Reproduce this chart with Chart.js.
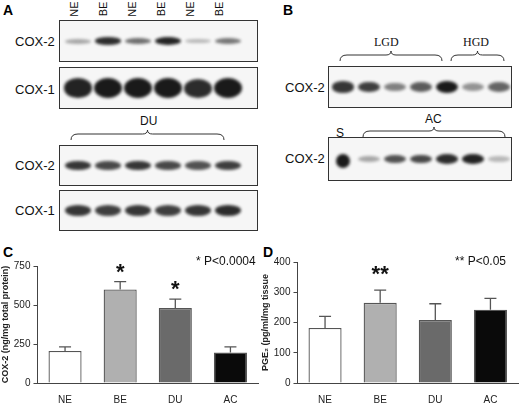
<!DOCTYPE html>
<html><head><meta charset="utf-8">
<script src="https://cdn.jsdelivr.net/npm/chart.js@4"></script>
<style>
body{margin:0;width:520px;height:409px;background:#fff;font-family:"Liberation Sans",Arial,sans-serif;position:relative;overflow:hidden}
.t{position:absolute;font-size:12px;color:#111;white-space:nowrap}
.L{position:absolute;font-weight:bold;font-size:14px}
.box{position:absolute;border:1px solid #333;background:#f6f6f6;overflow:hidden}
.band{position:absolute;border-radius:50%;background:#1a1a1a;filter:blur(1.5px)}
.serif{font-family:"Liberation Serif",serif;font-size:12px}
.brace{position:absolute}
canvas{position:absolute}
</style></head><body>
<div class="L" style="left:3px;top:2px">A</div>
<div class="L" style="left:283px;top:2px">B</div>
<div class="L" style="left:3px;top:244px">C</div>
<div class="L" style="left:263px;top:244px">D</div>
<div id="deco"></div>
<div style="position:absolute;left:0;top:250px;width:260px;height:159px"><canvas id="c"></canvas></div>
<div style="position:absolute;left:260px;top:250px;width:260px;height:159px"><canvas id="d"></canvas></div>
<div class="t" style="left:196px;top:254px;font-size:12px">* P&lt;0.0004</div>
<div class="t" style="left:455px;top:254px;font-size:12px">** P&lt;0.05</div>
<script>
// bar data
const groups = ['NE', 'BE', 'DU', 'AC'];
const cox2Mean = [205, 600, 480, 195];
const cox2Err = [27, 50, 58, 37];
const pgeMean = [182, 265, 208, 242];
const pgeErr = [38, 42, 54, 38];
const barColors = ['#ffffff', '#b0b0b0', '#6a6a6a', '#0a0a0a'];
const cox2Stars = ['', '*', '*', ''];
const pgeStars = ['', '**', '', ''];
// blot band intensities (0..1) per lane
const laneLabels = ['NE', 'BE', 'NE', 'BE', 'NE', 'BE'];
const aCox2 = [0.25, 0.9, 0.55, 0.95, 0.15, 0.5];
const aCox1 = [0.95, 1, 1, 1, 0.9, 1];
const duCox2 = [0.85, 0.75, 0.85, 0.75, 0.7, 0.8];
const duCox1 = [0.85, 0.8, 0.85, 0.8, 0.85, 0.9];
const bLgdHgd = [0.85, 0.8, 0.45, 0.65, 1, 0.35, 0.6];
const bAc = [1, 0.25, 0.7, 0.75, 0.9, 0.95, 0.15];

const deco = document.getElementById('deco');
function el(html) { deco.insertAdjacentHTML('beforeend', html); }
function blot(x, y, w, h, vals, bw, bh, lane0, laneW, round) {
  let s = `<div class="box" style="left:${x}px;top:${y}px;width:${w}px;height:${h}px">`;
  vals.forEach((v, i) => {
    const cx = lane0 + i * laneW;
    const hh = bh * (0.5 + 0.5 * v);
    const ww = round && i === 0 ? 14 : bw;
    const op = 0.15 + 0.85 * v;
    s += `<div class="band" style="left:${cx - ww / 2}px;top:${h / 2 - hh / 2}px;width:${ww}px;height:${round && i === 0 ? 14 : hh}px;opacity:${op}"></div>`;
  });
  deco.insertAdjacentHTML('beforeend', s + '</div>');
}
function brace(x1, x2, y) {
  const w = x2 - x1;
  el(`<svg class="brace" style="left:${x1}px;top:${y}px" width="${w}" height="12"><path d="M1 11 Q1 5 8 5 L${w / 2 - 5} 5 Q${w / 2} 5 ${w / 2} 1 Q${w / 2} 5 ${w / 2 + 5} 5 L${w - 8} 5 Q${w - 1} 5 ${w - 1} 11" fill="none" stroke="#333" stroke-width="1"/></svg>`);
}
// panel A
laneLabels.forEach((l, i) => {
  el(`<div class="t" style="left:${66 + i * 29}px;top:3px;transform:rotate(-90deg);transform-origin:center;width:16px;text-align:center;font-size:11px">${l}</div>`);
});
blot(59, 20, 197, 40, aCox2, 26, 8, 18, 30);
blot(59, 67, 197, 40, aCox1, 28, 20, 18, 30);
blot(59, 145, 197, 39, duCox2, 26, 10, 18, 30);
blot(59, 190, 197, 39, duCox1, 26, 12, 18, 30);
[[34, 'COX-2'], [82, 'COX-1'], [158, 'COX-2'], [203, 'COX-1']].forEach(([y, t]) => el(`<div class="t" style="left:15px;top:${y}px;font-size:13px">${t}</div>`));
el(`<div class="t" style="left:140px;top:114px">DU</div>`);
brace(70, 225, 129);
// panel B
blot(328, 66, 182, 40, bLgdHgd, 22, 12, 14, 26);
blot(328, 137, 182, 42, bAc, 22, 10, 14, 26, true);
el(`<div class="t" style="left:285px;top:80px;font-size:13px">COX-2</div>`);
el(`<div class="t" style="left:285px;top:151px;font-size:13px">COX-2</div>`);
el(`<div class="t serif" style="left:374px;top:35px">LGD</div>`);
el(`<div class="t serif" style="left:463px;top:35px">HGD</div>`);
brace(339, 443, 50);
brace(450, 505, 50);
el(`<div class="t" style="left:336px;top:126px">S</div>`);
el(`<div class="t" style="left:425px;top:112px">AC</div>`);
brace(362, 506, 126);

const errPlugin = {
  id: 'err',
  afterDatasetsDraw(chart, args, opts) {
    const { ctx, scales: { y } } = chart;
    const meta = chart.getDatasetMeta(0);
    ctx.save();
    ctx.strokeStyle = '#555'; ctx.lineWidth = 1.3;
    meta.data.forEach((b, i) => {
      const v = chart.data.datasets[0].data[i];
      const top = y.getPixelForValue(v + opts.err[i]);
      ctx.beginPath();
      ctx.moveTo(b.x, b.y); ctx.lineTo(b.x, top);
      ctx.moveTo(b.x - 6, top); ctx.lineTo(b.x + 6, top);
      ctx.stroke();
      if (opts.stars[i]) {
        ctx.fillStyle = '#111';
        ctx.font = 'bold 22px "Liberation Sans"';
        ctx.textAlign = 'center';
        ctx.fillText(opts.stars[i], b.x, top - opts.gap);
      }
    });
    ctx.restore();
  }
};
function bar(id, data, err, stars, max, step, title, padTop, gap) {
  new Chart(document.getElementById(id), {
    type: 'bar',
    data: { labels: groups, datasets: [{ data, backgroundColor: barColors, borderColor: '#555', borderWidth: 1.3, barPercentage: 0.6, categoryPercentage: 1 }] },
    options: {
      responsive: true, maintainAspectRatio: false, animation: false,
      layout: { padding: { top: padTop, right: 2, left: 0, bottom: 0 } },
      plugins: { legend: { display: false }, tooltip: { enabled: false }, err: { err, stars, gap } },
      scales: {
        x: { grid: { display: false }, border: { color: '#444' }, ticks: { color: '#222', font: { size: 10 } } },
        y: { min: 0, max, ticks: { stepSize: step, color: '#222', font: { size: 10 } },
          grid: { drawOnChartArea: false, tickLength: 4, color: '#444' }, border: { color: '#444' },
          title: { display: true, text: title, color: '#222', font: { size: 9, weight: 'bold' }, padding: 0 } }
      }
    },
    plugins: [errPlugin]
  });
}
bar('c', cox2Mean, cox2Err, cox2Stars, 750, 250, 'COX-2 (ng/mg total protein)', 16, 3);
bar('d', pgeMean, pgeErr, pgeStars, 400, 100, 'PGE₂ (pg/ml/mg tissue', 12, 9);
</script>
</body></html>
